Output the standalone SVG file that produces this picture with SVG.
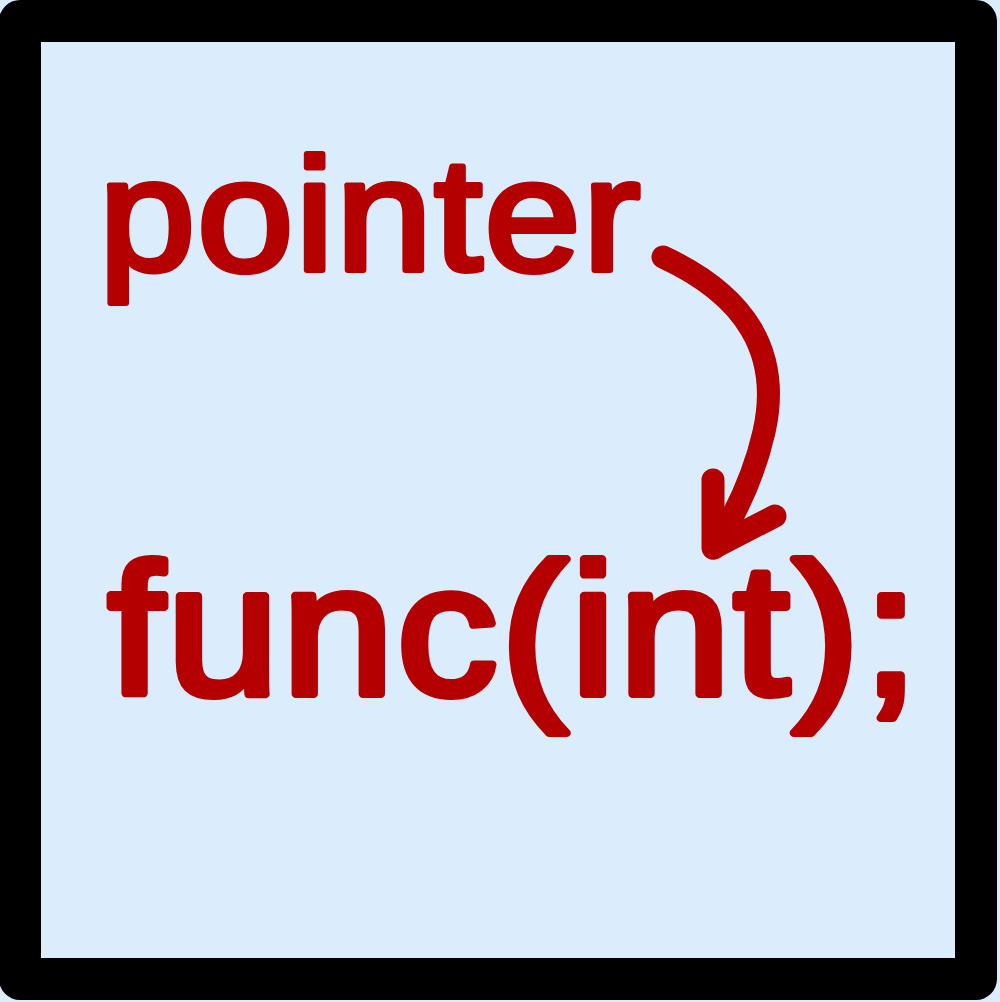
<svg xmlns="http://www.w3.org/2000/svg" width="1000" height="1002" viewBox="0 0 1000 1002">
  <style>
    .frame { fill: #DBEDFD; stroke: #000000; stroke-width: 42; stroke-linejoin: round; }
    .code { font-family: "Liberation Sans", Arial, sans-serif; font-weight: normal; fill: #B40000; stroke: #B40000; stroke-linejoin: round; stroke-linecap: round; }
    .arrow { fill: none; stroke: #B40000; stroke-width: 23; stroke-linecap: round; stroke-linejoin: round; }
  </style>
  <rect x="0" y="0" width="1000" height="1002" fill="#DBEDFD"/>
  <g id="frame">
    <rect class="frame" x="20" y="21" width="956" height="958"/>
  </g>
  <g id="pointer">
    <text class="code" transform="translate(99,270) scale(1.08,1)" x="0" y="0" font-size="160" stroke-width="6" letter-spacing="2">pointer</text>
  </g>
  <g id="func">
    <text class="code" transform="translate(108,694) scale(1.08,1)" x="0" y="0" font-size="186" stroke-width="8" letter-spacing="3">func(int);</text>
  </g>
  <g id="connectors">
    <path class="arrow" d="M663,257 C745,295 782,352 764,432 C753,480 732,520 714,548"/>
    <path class="arrow" d="M713,480 L713,548 L775,516"/>
  </g>
</svg>
